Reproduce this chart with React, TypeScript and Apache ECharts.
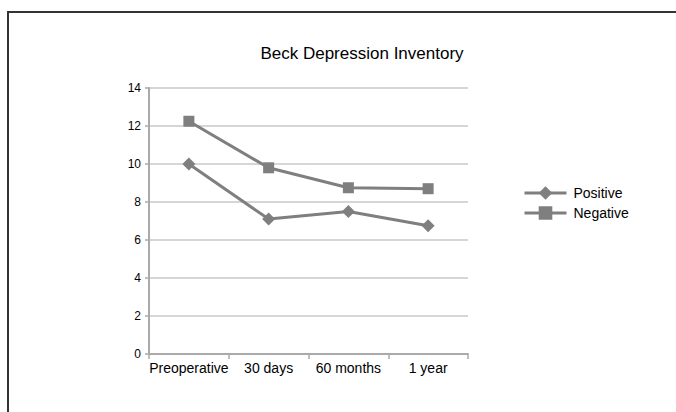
import React, { useEffect, useRef } from "react";
import * as echarts from "echarts";

const categories = ["Preoperative", "30 days", "60 months", "1 year"];
const positiveValues = [10.0, 7.1, 7.5, 6.75];
const negativeValues = [12.25, 9.8, 8.75, 8.7];
const seriesNames = ["Positive", "Negative"];
const titleText = "Beck Depression Inventory";

export default function App() {
  const ref = useRef<HTMLDivElement>(null);
  useEffect(() => {
    document.body.style.margin = "0";
    const chart = echarts.init(ref.current!, undefined, { renderer: "svg" });
    const font = "Liberation Sans, Arial, Helvetica, sans-serif";
    chart.setOption({
      animation: false,
      backgroundColor: "#ffffff",
      textStyle: { fontFamily: font },
      title: {
        text: titleText,
        left: 357,
        top: 40,
        textAlign: "center",
        textStyle: { fontSize: 17, fontWeight: "normal", color: "#000", fontFamily: font },
      },
      graphic: [
        { type: "line", shape: { x1: 8, y1: 12, x2: 676, y2: 12 }, style: { stroke: "#333", lineWidth: 2 } },
        { type: "line", shape: { x1: 8, y1: 11, x2: 8, y2: 412 }, style: { stroke: "#333", lineWidth: 2 } },
      ],
      legend: {
        orient: "vertical",
        left: 518,
        top: 181,
        itemWidth: 42,
        itemHeight: 17,
        itemGap: 6,
        data: seriesNames,
        lineStyle: { width: 3 },
        textStyle: { fontSize: 14, color: "#000", fontFamily: font, padding: [0, 0, 0, 2] },
      },
      grid: { left: 149, right: 208, top: 88, bottom: 58, containLabel: false },
      xAxis: {
        type: "category",
        data: categories,
        boundaryGap: true,
        axisLine: { show: true, lineStyle: { color: "#aaa", width: 2 } },
        axisTick: { show: true, length: 5, lineStyle: { color: "#aaa", width: 1.5 } },
        axisLabel: { fontSize: 14, color: "#000", margin: 7, interval: 0, fontFamily: font },
      },
      yAxis: {
        type: "value",
        min: 0,
        max: 14,
        interval: 2,
        axisLine: { show: true, lineStyle: { color: "#aaa", width: 2 } },
        axisTick: { show: true, length: 4, lineStyle: { color: "#aaa", width: 1.5 } },
        axisLabel: { fontSize: 12, color: "#000", margin: 8, fontFamily: font },
        splitLine: { show: true, lineStyle: { color: "#c8c8c8", width: 1.5 } },
      },
      series: [
        {
          name: seriesNames[0],
          type: "line",
          data: positiveValues,
          symbol: "diamond",
          symbolSize: 13,
          lineStyle: { color: "#7f7f7f", width: 3 },
          itemStyle: { color: "#7f7f7f" },
        },
        {
          name: seriesNames[1],
          type: "line",
          data: negativeValues,
          symbol: "rect",
          symbolSize: 11,
          lineStyle: { color: "#7f7f7f", width: 3 },
          itemStyle: { color: "#7f7f7f" },
        },
      ],
    });
    return () => chart.dispose();
  }, []);
  return <div ref={ref} style={{ width: 676, height: 412 }} />;
}
